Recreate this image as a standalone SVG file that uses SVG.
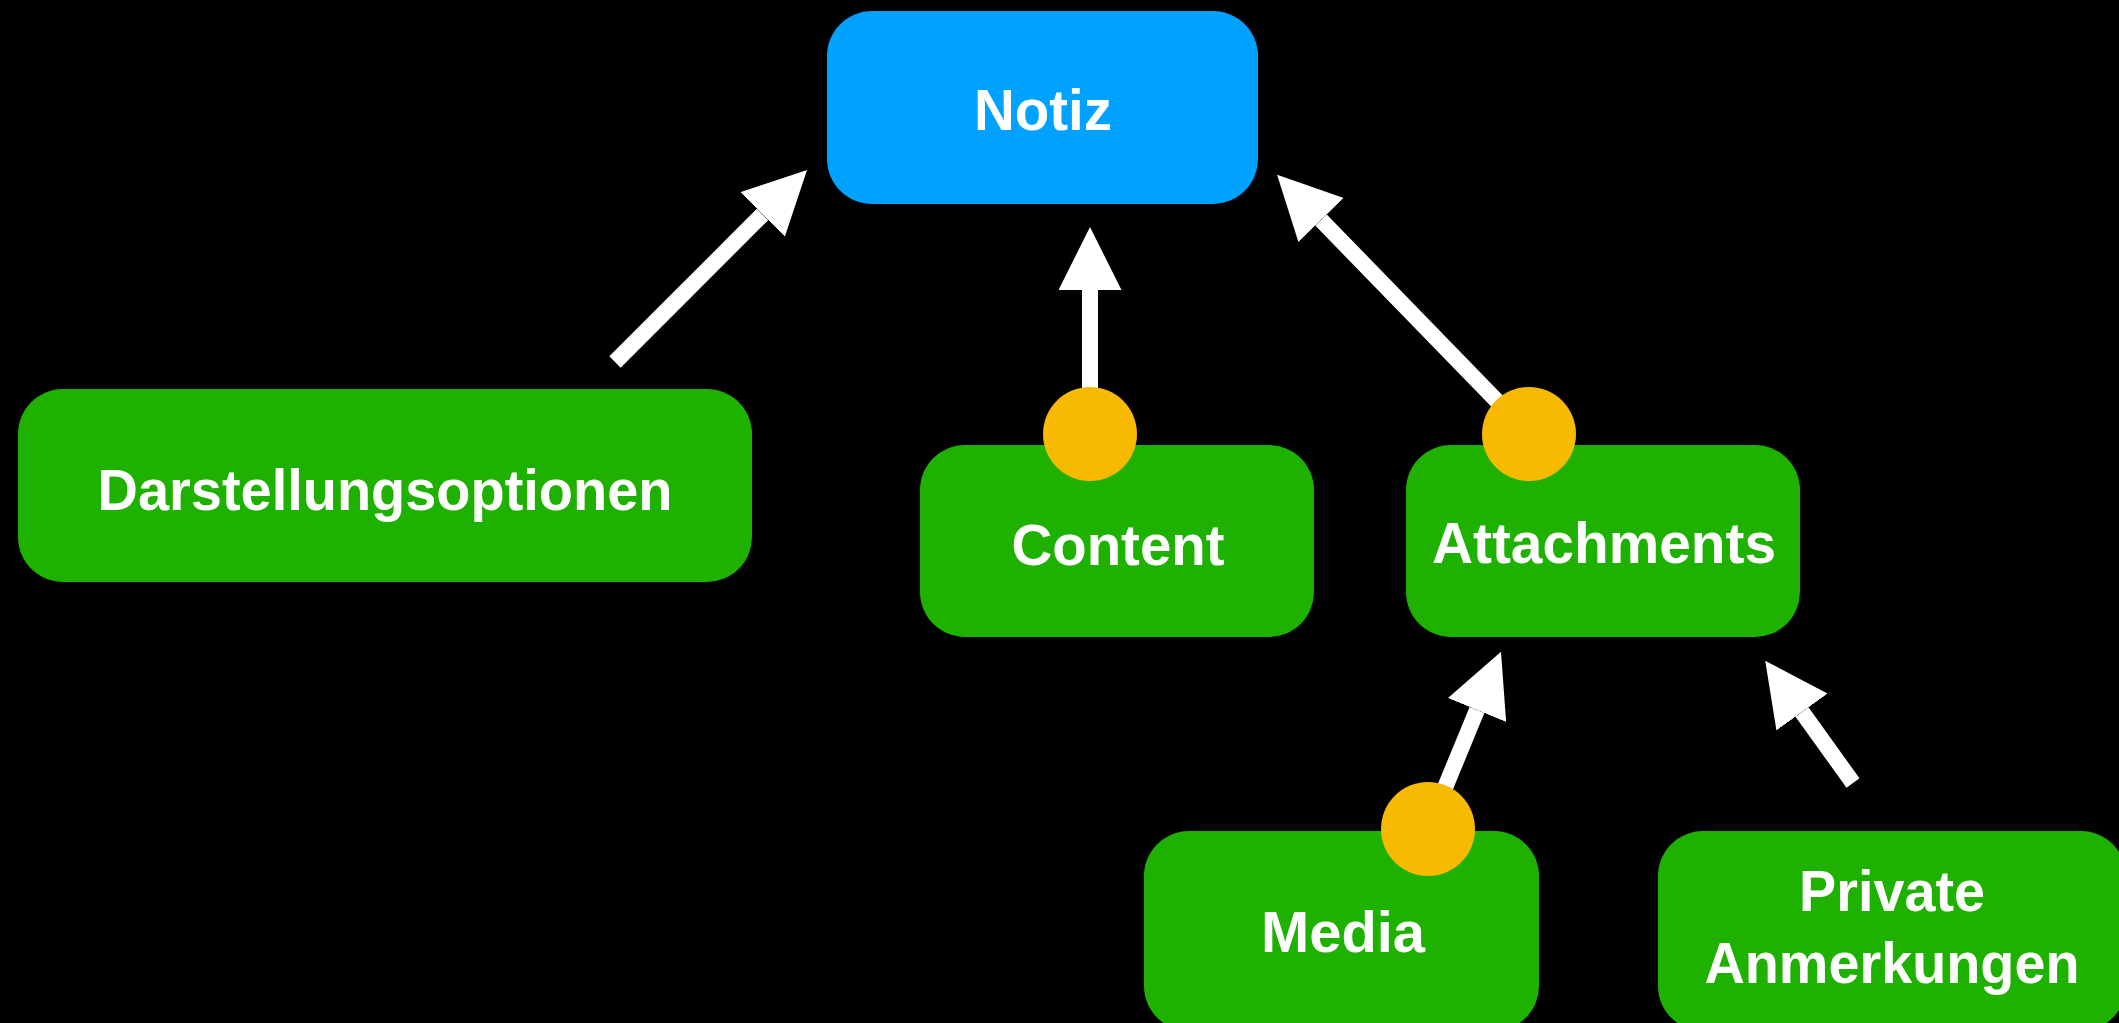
<svg xmlns="http://www.w3.org/2000/svg" width="2119" height="1023" viewBox="0 0 2119 1023">
<style>
.box-green{fill:#1EB100}
.box-blue{fill:#00A2FF}
.lbl{font-family:"Liberation Sans",Arial,sans-serif;font-weight:bold;font-size:58px;fill:#FFFFFF}
.dot{fill:#F8BA00}
.conn{stroke:#FFFFFF;stroke-width:16;fill:none;stroke-linecap:butt}
</style>
<defs>
<marker id="head" viewBox="0 0 63 63" markerWidth="63" markerHeight="63" markerUnits="userSpaceOnUse" refX="0" refY="31.5" orient="auto">
<path d="M0,0 L63,31.5 L0,63 Z" fill="#FFFFFF"/>
</marker>
</defs>
<rect x="0" y="0" width="2119" height="1023" fill="#000000"/>
<g id="connectors">
<line class="conn" x1="615" y1="362" x2="762.5" y2="214.5" marker-end="url(#head)"/>
<line class="conn" x1="1090" y1="434" x2="1090" y2="290" marker-end="url(#head)"/>
<line class="conn" x1="1529" y1="434" x2="1321" y2="220" marker-end="url(#head)"/>
<line class="conn" x1="1428" y1="829" x2="1477" y2="710" marker-end="url(#head)"/>
<line class="conn" x1="1853" y1="783" x2="1802" y2="712" marker-end="url(#head)"/>
</g>
<g id="notiz">
<rect class="box-blue" x="827" y="11" width="431" height="193" rx="45" ry="45"/>
<text class="lbl" x="1043" y="130" text-anchor="middle" textLength="138" lengthAdjust="spacingAndGlyphs">Notiz</text>
</g>
<g id="darstellungsoptionen">
<rect class="box-green" x="18" y="389" width="734" height="193" rx="45" ry="45"/>
<text class="lbl" x="385" y="510" text-anchor="middle" textLength="575" lengthAdjust="spacingAndGlyphs">Darstellungsoptionen</text>
</g>
<g id="content">
<rect class="box-green" x="920" y="445" width="394" height="192" rx="45" ry="45"/>
<text class="lbl" x="1118" y="565" text-anchor="middle" textLength="213" lengthAdjust="spacingAndGlyphs">Content</text>
<circle class="dot" cx="1090" cy="434" r="47"/>
</g>
<g id="attachments">
<rect class="box-green" x="1406" y="445" width="394" height="192" rx="45" ry="45"/>
<text class="lbl" x="1604" y="563" text-anchor="middle" textLength="344" lengthAdjust="spacingAndGlyphs">Attachments</text>
<circle class="dot" cx="1529" cy="434" r="47"/>
</g>
<g id="media">
<rect class="box-green" x="1144" y="831" width="395" height="200" rx="45" ry="45"/>
<text class="lbl" x="1343" y="952" text-anchor="middle" textLength="164" lengthAdjust="spacingAndGlyphs">Media</text>
<circle class="dot" cx="1428" cy="829" r="47"/>
</g>
<g id="private-anmerkungen">
<rect class="box-green" x="1658" y="831" width="468" height="200" rx="45" ry="45"/>
<text class="lbl" x="1892" y="911" text-anchor="middle" textLength="186" lengthAdjust="spacingAndGlyphs">Private</text>
<text class="lbl" x="1892" y="983" text-anchor="middle" textLength="375" lengthAdjust="spacingAndGlyphs">Anmerkungen</text>
</g>
</svg>
